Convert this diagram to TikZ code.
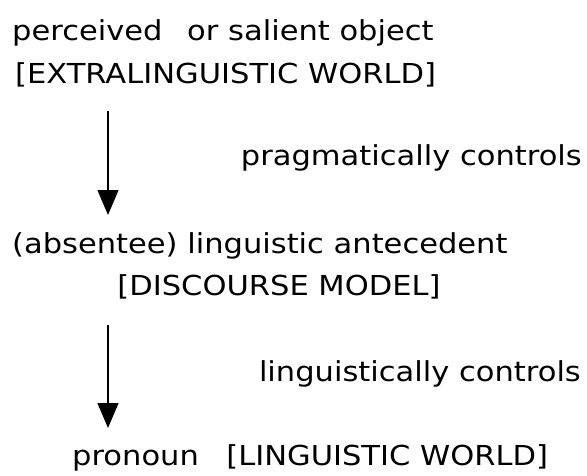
\documentclass[tikz,border=0pt]{standalone}
\usepackage{fontspec}
\setmainfont{DejaVu Sans}[FakeStretch=1.11]
\usetikzlibrary{arrows.meta}
\tikzset{
  lbl/.style={inner sep=0pt, font=\fontsize{27.5}{33}\selectfont},
  ctrl/.style={line width=1.3pt, -{Triangle[length=25pt,width=21pt]}}
}
\begin{document}
\begin{tikzpicture}[x=1pt,y=-1pt]
\useasboundingbox (0,0) rectangle (587,475);
% levels of control
\node[lbl, anchor=base west] (obj) at (12,40) {perceived\hspace{0.9em}or salient object};
\node[lbl, anchor=base west] (ext) at (15,83) {[EXTRALINGUISTIC WORLD]};
\node[lbl, anchor=base east] (prag) at (582,165) {pragmatically controls};
\node[lbl, anchor=base west] (ante) at (12,253) {(absentee) linguistic antecedent};
\node[lbl, anchor=base] (disc) at (279,295) {[DISCOURSE MODEL]};
\node[lbl, anchor=base east] (ling) at (581,381) {linguistically controls};
\node[lbl, anchor=base west] (pron) at (72,465) {pronoun\hspace{1.0em}[LINGUISTIC WORLD]};
% arrows
\coordinate (a1s) at (108,111);
\coordinate (a1e) at (108,215);
\coordinate (a2s) at (108,325);
\coordinate (a2e) at (108,428);
\draw[ctrl] (a1s) -- (a1e);
\draw[ctrl] (a2s) -- (a2e);
\end{tikzpicture}
\end{document}
